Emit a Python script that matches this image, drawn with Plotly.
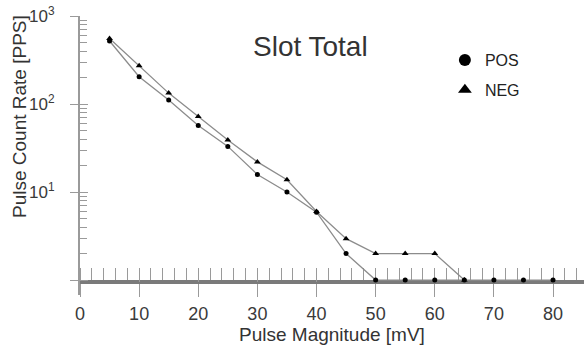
import plotly.graph_objects as go

# ---- data ----
mag_pos = [5, 10, 15, 20, 25, 30, 35, 40, 45, 50, 55, 60, 65, 70, 75, 80]
rate_pos = [520, 204, 111, 57, 33, 15.8, 10, 5.9, 2.0, 1, 1, 1, 1, 1, 1, 1]
mag_neg = [5, 10, 15, 20, 25, 30, 35, 40, 45, 50, 55, 60, 65]
rate_neg = [555, 272, 133, 72, 39, 22, 13.8, 6.0, 2.95, 2, 2, 2, 1]

x_major = [0, 10, 20, 30, 40, 50, 60, 70, 80]
y_major = [1, 10, 100, 1000]
y_major_text = ["", "10<sup>1</sup>", "10<sup>2</sup>", "10<sup>3</sup>"]
y_minor = [m * d for d in (1, 10, 100) for m in range(2, 10)]

LINE = "#8c8c8c"
AX = "#9a9a9a"
TXT = "#333333"
FONT = "Liberation Sans, Arial, sans-serif"

y_range = [-0.17, 3.0]
x_range = [0, 85.24]
xpos = 0.046

fig = go.Figure()
fig.add_trace(go.Scatter(x=mag_neg, y=rate_neg, mode="lines+markers", showlegend=False,
                         line=dict(color=LINE, width=1.3),
                         marker=dict(symbol="triangle-up", size=6, color="black")))
fig.add_trace(go.Scatter(x=mag_pos, y=rate_pos, mode="lines+markers", showlegend=False,
                         line=dict(color=LINE, width=1.3),
                         marker=dict(symbol="circle", size=5, color="black")))
# legend entries (markers only)
fig.add_trace(go.Scatter(x=[None], y=[None], mode="markers", name="POS", legendgroup="a",
                         xaxis="x2", yaxis="y",
                         marker=dict(symbol="circle", size=10, color="black")))
fig.add_trace(go.Scatter(x=[None], y=[None], mode="markers", name="NEG", legendgroup="b",
                         xaxis="x", yaxis="y2",
                         marker=dict(symbol="triangle-up", size=10, color="black")))

fig.update_layout(
    width=584, height=346,
    margin=dict(l=80, r=0, t=16, b=51),
    paper_bgcolor="white", plot_bgcolor="white",
    font=dict(family=FONT, color=TXT),
    showlegend=True,
    legend=dict(x=0.724, y=0.903, xanchor="left", yanchor="top",
                font=dict(size=16, color="#222"), traceorder="grouped",
                tracegroupgap=6, bgcolor="rgba(0,0,0,0)", itemsizing="constant"),
    xaxis=dict(range=x_range, anchor="free", position=xpos, layer="below traces",
               showline=True, linecolor="#7a7a7a", linewidth=4,
               tickvals=x_major, ticks="outside", ticklen=13, tickcolor=AX, tickwidth=1.2,
               ticklabelstandoff=1, tickfont=dict(size=18, color="#3a3a3a"),
               minor=dict(dtick=2, tick0=0, ticks="inside", ticklen=12, tickcolor=AX, tickwidth=1.2),
               showgrid=False, zeroline=False),
    xaxis2=dict(range=x_range, overlaying="x", anchor="free", position=xpos, layer="below traces",
                tickvals=x_major[1:], ticks="inside", ticklen=13, tickcolor=AX, tickwidth=1.2,
                showticklabels=False, showline=False, showgrid=False, zeroline=False),
    yaxis=dict(type="log", range=y_range, anchor="x", layer="below traces",
               showline=True, linecolor=AX, linewidth=2,
               tickvals=y_major, ticktext=y_major_text, ticks="outside", ticklen=8,
               tickcolor=AX, tickwidth=1.2, ticklabelstandoff=12,
               tickfont=dict(size=17, color="#3a3a3a"),
               minor=dict(tickvals=y_minor, ticks="inside", ticklen=7, tickcolor=AX, tickwidth=1.2),
               showgrid=False, zeroline=False),
    yaxis2=dict(type="log", range=y_range, overlaying="y", anchor="x", layer="below traces",
                tickvals=y_major, ticks="inside", ticklen=8, tickcolor=AX, tickwidth=1.2,
                showticklabels=False, showline=False, showgrid=False, zeroline=False),
    annotations=[
        dict(text="Slot Total", xref="paper", yref="paper", x=0.458, y=0.892,
             xanchor="center", yanchor="middle",
             showarrow=False, font=dict(size=28, color=TXT)),
        dict(text="Pulse Magnitude [mV]", xref="paper", yref="paper", x=0.5, y=-0.143,
             xanchor="center", yanchor="middle",
             showarrow=False, font=dict(size=19, color=TXT)),
        dict(text="Pulse Count Rate [PPS]", xref="paper", yref="paper", x=-0.119, y=0.638,
             xanchor="center", yanchor="middle",
             textangle=-90, showarrow=False, font=dict(size=19, color=TXT)),
    ],
)

fig.write_html("out.html")
